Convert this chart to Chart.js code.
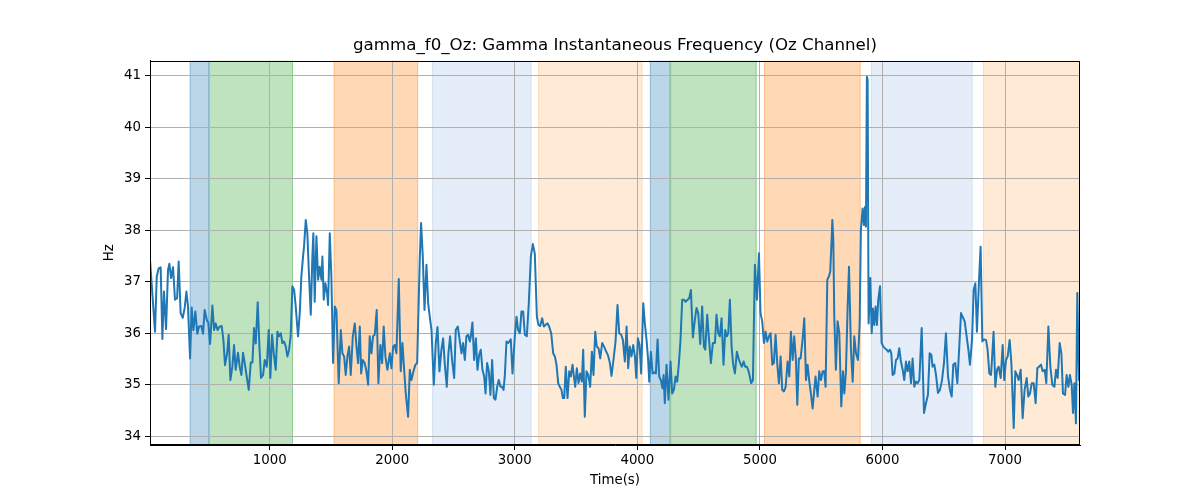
<!DOCTYPE html>
<html><head><meta charset="utf-8">
<script src="https://cdn.jsdelivr.net/npm/chart.js@4/dist/chart.umd.min.js"></script>
<style>html,body{margin:0;padding:0;background:#fff;}canvas{display:block;}</style>
</head><body>
<canvas id="c" width="1200" height="500"></canvas>
<script>
const chartTitle = 'gamma_f0_Oz: Gamma Instantaneous Frequency (Oz Channel)';
const xLabel = 'Time(s)';
const yLabel = 'Hz';
const xTicks = [1000, 2000, 3000, 4000, 5000, 6000, 7000];
const yTicks = [34, 35, 36, 37, 38, 39, 40, 41];

const timeSec = [
23,40,64,78,94,110,124,137,154,170,181,195,211,227,244,257,273,290,306,320,333,350,363,377,393,409,423,442,456,469,486,499,513,532,546,559,575,592,608,622,635,652,665,679,695,709,722,741,755,769,782,796,812,829,845,859,872,886,902,916,929,946,959,976,992,
1005,1019,1033,1049,1063,1076,1090,1103,1117,1131,1144,1158,1171,1185,1199,1212,1231,1245,1258,1272,1280,1294,1307,1321,1335,1348,1356,1367,1381,1395,1408,1422,1430,1441,1454,1468,1476,1490,1503,1517,1531,1544,1563,1580,1593,1607,1620,1634,1648,1661,1678,1694,1708,1721,1735,1746,1759,1775,1789,1803,1816,1830,1843,1857,1873,1887,1903,1917,1930,1944,1960,1980,
1993,2007,2020,2034,2053,2069,2083,2097,2110,2129,2143,2156,2173,2189,2203,2211,2225,2235,2249,2263,2279,2293,2306,2320,2339,2355,2369,2385,2401,2415,2429,2445,2458,2472,2488,2505,2518,2535,2548,2565,2578,2592,2605,2619,2633,2641,2654,2668,2682,2695,2709,2722,2736,2750,2761,2774,2788,2801,2815,2829,2842,2856,2869,2883,2897,2908,2918,2932,2946,
2967,2981,3000,3014,3027,3041,3054,3068,3082,3098,3114,3131,3147,3163,3171,3180,3193,3207,3223,3237,3250,3267,3280,3297,3313,3327,3340,3354,3367,3381,3392,3403,3416,3430,3444,3457,3471,3482,3493,3506,3520,3533,3547,3558,3571,3585,3599,3615,3629,3642,3656,3669,3683,3697,3713,3729,3746,3759,3776,3789,3805,3822,3838,3852,3868,3882,3898,3912,3925,3938,
3952,3966,3980,3991,4004,4018,4031,4048,4061,4075,4088,4097,4110,4124,4137,4151,4165,4178,4192,4205,4214,4224,4238,4254,4271,4284,4298,4312,4325,4339,4352,4366,4380,4393,4410,4423,4437,4453,4469,4483,4497,4513,4529,4543,4554,4570,4584,4600,4616,4633,4646,4660,4673,4687,4703,4717,4731,4742,4755,4769,4782,4796,4812,4826,4839,4853,4867,4880,4894,4908,
4929,4943,4959,4976,4992,5005,5019,5033,5046,5060,5074,5087,5101,5114,5128,5142,5155,5169,5182,5196,5210,5226,5240,5253,5267,5280,5294,5305,5318,5332,5348,5362,5376,5389,5403,5416,5430,5444,5454,5471,5484,5498,5512,5525,5536,5550,5563,5574,5585,5591,5599,5607,5620,5634,5648,5664,5678,5689,5702,5716,5727,5743,5757,5770,5784,5800,5814,
5824,5838,5849,5857,5865,5873,5879,5887,5901,5912,5922,5933,5944,5955,5966,5980,5993,6007,6020,6034,6048,6061,6072,6083,6097,6110,6124,6137,6151,6165,6178,6192,6205,6219,6233,6246,6260,6273,6287,6301,6320,6339,6355,6371,6385,6399,6409,6423,6437,6453,6469,6486,6502,6518,6535,6551,6565,6578,6594,6611,6627,6641,6654,6671,6687,6701,6714,6731,6744,6758,6771,6788,6801,
6815,6828,6845,6858,6872,6886,6896,6907,6921,6935,6948,6965,6981,6994,7008,7022,7038,7052,7071,7084,7098,7111,7128,7144,7160,7177,7190,7204,7218,7234,7250,7264,7277,7294,7307,7324,7337,7354,7370,7386,7403,7416,7430,7446,7460,7473,7490,7503,7517,7530,7544,7555,7566,7579,7590,7604,7612
];

const gammaHz = [
37.42,36.84,36.03,37.1,37.26,37.28,35.89,36.81,36.08,37.23,37.35,37.07,37.28,36.65,36.68,37.39,36.39,36.3,36.49,36.81,36.52,35.51,36.5,36.06,36.42,35.99,36.13,36.14,35.99,36.45,36.26,36.2,35.79,36.54,36.06,36.19,36.06,36.13,36.14,35.87,35.38,35.61,35.97,35.09,35.35,35.77,35.29,35.62,35.35,35.19,35.62,35.42,35.16,34.9,35.43,35.43,36.1,35.8,36.6,35.74,35.13,35.19,35.48,35.35,36.06,
35.13,35.97,35.61,35.29,36.03,35.94,36.0,35.81,35.84,35.74,35.55,35.68,35.94,36.91,36.84,36.52,35.94,36.39,37.1,37.49,37.68,38.2,37.94,37.1,36.36,37.49,37.94,36.61,37.88,37.04,37.29,37.04,37.49,36.65,36.97,36.78,36.55,37.94,37.1,35.42,36.52,36.45,35.03,36.06,35.61,35.55,35.19,35.55,35.74,35.19,35.94,36.19,35.74,35.42,36.13,35.22,35.48,35.42,35.26,35.0,35.94,35.61,35.94,35.97,36.45,35.03,35.77,35.42,36.13,35.55,35.29,35.61,
35.32,35.74,35.77,35.61,37.05,35.26,35.81,35.29,34.83,34.38,35.29,35.09,35.26,35.39,35.42,36.19,37.49,38.14,37.49,36.45,37.33,36.58,36.32,36.06,35.0,35.81,36.12,35.26,35.68,35.9,35.39,34.96,35.61,35.94,35.48,35.13,36.06,36.13,35.9,35.61,35.81,35.48,35.94,35.97,35.84,35.94,36.21,35.48,35.9,35.29,35.58,35.68,35.29,35.16,34.83,35.42,35.26,34.8,35.48,34.74,34.71,34.96,35.09,34.96,34.96,34.9,35.16,35.84,35.81,
35.88,35.22,35.94,36.32,36.06,36.0,36.42,36.42,35.97,35.94,36.58,37.49,37.73,37.55,36.97,36.32,36.16,36.14,36.29,36.13,36.16,36.19,36.13,36.0,35.61,35.55,35.39,35.03,34.96,34.9,34.74,34.74,35.35,34.74,35.26,35.16,35.39,35.16,34.96,35.32,35.03,35.22,35.06,35.68,34.38,35.26,35.19,34.96,35.64,35.19,36.03,35.74,35.71,35.51,35.81,35.74,35.64,35.58,35.42,35.17,35.48,35.84,36.55,36.0,35.97,35.87,35.45,36.13,35.32,35.74,
35.55,35.77,35.55,35.13,35.9,35.77,35.22,36.58,36.19,35.87,35.48,35.06,35.64,35.22,35.24,35.22,35.88,35.16,35.09,34.93,35.19,34.64,35.39,34.71,35.45,34.83,34.9,35.16,35.06,35.42,35.87,36.65,36.65,36.61,36.65,36.68,36.84,35.92,36.26,36.49,36.39,35.79,36.52,35.74,35.68,36.36,35.9,35.42,35.81,35.81,36.36,36.0,35.94,36.29,35.39,36.06,35.94,36.0,36.65,35.74,35.39,35.22,35.64,35.51,35.42,35.35,35.45,35.35,35.35,35.26,
35.03,35.09,37.33,36.65,37.55,36.39,36.23,35.81,36.03,35.84,35.94,36.0,35.39,35.42,35.97,35.39,35.03,35.55,34.9,34.87,34.96,35.45,35.16,36.03,35.48,35.94,35.48,34.61,35.51,35.51,35.87,36.29,35.09,35.39,35.06,34.83,34.54,34.9,35.16,34.77,35.26,35.09,35.26,35.26,34.96,37.04,37.1,37.2,37.81,38.2,37.81,36.32,35.29,36.23,36.0,34.58,35.26,34.83,35.26,36.52,37.29,35.68,35.06,35.94,35.61,35.48,36.19,
38.0,38.42,38.1,38.45,38.07,40.98,40.92,36.19,37.07,36.0,36.48,36.16,36.52,36.16,36.65,36.91,35.81,35.74,35.71,35.68,35.64,35.68,35.61,35.19,35.22,35.48,35.51,35.71,35.45,35.29,35.09,35.45,35.26,35.45,35.03,35.51,34.96,35.06,35.03,35.09,36.1,34.45,34.64,34.8,35.61,35.58,35.35,35.39,35.19,34.84,34.9,35.09,35.42,36.0,35.16,34.9,34.77,35.39,35.42,35.03,35.74,36.39,36.32,36.23,35.94,35.68,35.39,35.87,36.84,36.97,36.03,37.03,37.68,
35.84,35.88,35.87,35.68,35.22,35.19,35.58,36.03,34.96,35.29,35.35,35.13,35.77,35.09,35.48,35.55,35.87,35.42,34.16,35.26,35.19,35.09,35.29,34.35,34.9,35.13,34.77,34.83,35.03,35.03,34.64,35.32,35.35,35.39,35.26,35.29,35.03,36.13,35.35,35.0,34.96,35.29,35.13,35.81,35.61,34.83,34.8,35.19,34.96,35.19,35.0,34.45,35.03,34.25,36.78,35.09,35.1
];

// shaded intervals (seconds) and their category
const spanStart = [347, 504, 1522, 2325, 3190, 4102, 4268, 5033, 5906, 6820];
const spanEnd   = [504, 1190, 2211, 3136, 4042, 4268, 4973, 5822, 6736, 7612];
const spanKind  = ['blue', 'green', 'orange', 'lightblue', 'lightorange', 'blue', 'green', 'orange', 'lightblue', 'lightorange'];

const kindColor = {
  blue: 'rgba(31,119,180,0.3)',
  green: 'rgba(44,160,44,0.3)',
  orange: 'rgba(255,127,14,0.3)',
  lightblue: 'rgba(174,199,232,0.32)',
  lightorange: 'rgba(255,187,120,0.3)'
};

const FONT = '"DejaVu Sans", sans-serif';

const spanPlugin = {
  id: 'spans',
  beforeDraw(chart) {
    const {ctx, chartArea: a, scales: {x}} = chart;
    ctx.save();
    ctx.fillStyle = '#fff';
    ctx.fillRect(0, 0, chart.width, chart.height);
    for (let i = 0; i < spanStart.length; i++) {
      const x0 = Math.max(x.getPixelForValue(spanStart[i]), a.left);
      const x1 = Math.min(x.getPixelForValue(spanEnd[i]), a.right);
      const c = kindColor[spanKind[i]];
      ctx.fillStyle = c;
      ctx.fillRect(x0, a.top, x1 - x0, a.bottom - a.top);
      ctx.strokeStyle = c;
      ctx.lineWidth = 1;
      ctx.beginPath();
      ctx.moveTo(x0 + 0.5, a.top); ctx.lineTo(x0 + 0.5, a.bottom);
      ctx.moveTo(x1 - 0.5, a.top); ctx.lineTo(x1 - 0.5, a.bottom);
      ctx.stroke();
    }
    ctx.restore();
  },
  afterDatasetsDraw(chart) {
    const {ctx, chartArea: a} = chart;
    ctx.save();
    ctx.strokeStyle = '#000';
    ctx.lineWidth = 1;
    ctx.strokeRect(Math.round(a.left) + 0.5, Math.round(a.top) + 0.5,
                   Math.round(a.right - a.left) - 1, Math.round(a.bottom - a.top) - 1);
    // title centred over the plotting area
    ctx.fillStyle = '#000';
    ctx.font = '16.67px ' + FONT;
    ctx.textAlign = 'center';
    ctx.textBaseline = 'middle';
    ctx.fillText(chartTitle, (a.left + a.right) / 2, 46);
    ctx.restore();
  }
};

new Chart(document.getElementById('c'), {
  type: 'line',
  data: {
    datasets: [{
      data: timeSec.map((t, i) => ({x: t, y: gammaHz[i]})),
      borderColor: '#1f77b4',
      borderWidth: 2,
      pointRadius: 0,
      tension: 0,
      borderJoinStyle: 'round',
      fill: false
    }]
  },
  options: {
    responsive: false,
    animation: false,
    devicePixelRatio: 1,
    layout: {padding: {left: 0, right: 120, top: 60.7, bottom: 0}},
    plugins: {
      legend: {display: false},
      tooltip: {enabled: false},
      title: {display: false}
    },
    scales: {
      x: {
        type: 'linear',
        min: 23,
        max: 7612,
        afterBuildTicks: s => { s.ticks = xTicks.map(v => ({value: v})); },
        afterFit: s => { s.height = 55; },
        grid: {color: '#b0b0b0', lineWidth: 1, tickColor: '#000', tickLength: 5, drawTicks: true},
        border: {display: true, color: '#000', width: 1},
        ticks: {color: '#000', font: {family: FONT, size: 13.33}, padding: 3, maxRotation: 0, autoSkip: false,
                callback: v => String(v)},
        title: {display: true, text: xLabel, color: '#000', font: {family: FONT, size: 13.33},
                padding: {top: 0, bottom: 11}}
      },
      y: {
        type: 'linear',
        min: 33.83,
        max: 41.29,
        afterBuildTicks: s => { s.ticks = yTicks.map(v => ({value: v})); },
        afterFit: s => { s.width = 150; },
        grid: {color: '#b0b0b0', lineWidth: 1, tickColor: '#000', tickLength: 5, drawTicks: true},
        border: {display: true, color: '#000', width: 1},
        ticks: {color: '#000', font: {family: FONT, size: 13.33}, padding: 4, autoSkip: false,
                callback: v => String(v)},
        title: {display: true, text: yLabel, color: '#000', font: {family: FONT, size: 13.33},
                padding: {top: 102, bottom: 0}}
      }
    }
  },
  plugins: [spanPlugin]
});
</script>
</body></html>
